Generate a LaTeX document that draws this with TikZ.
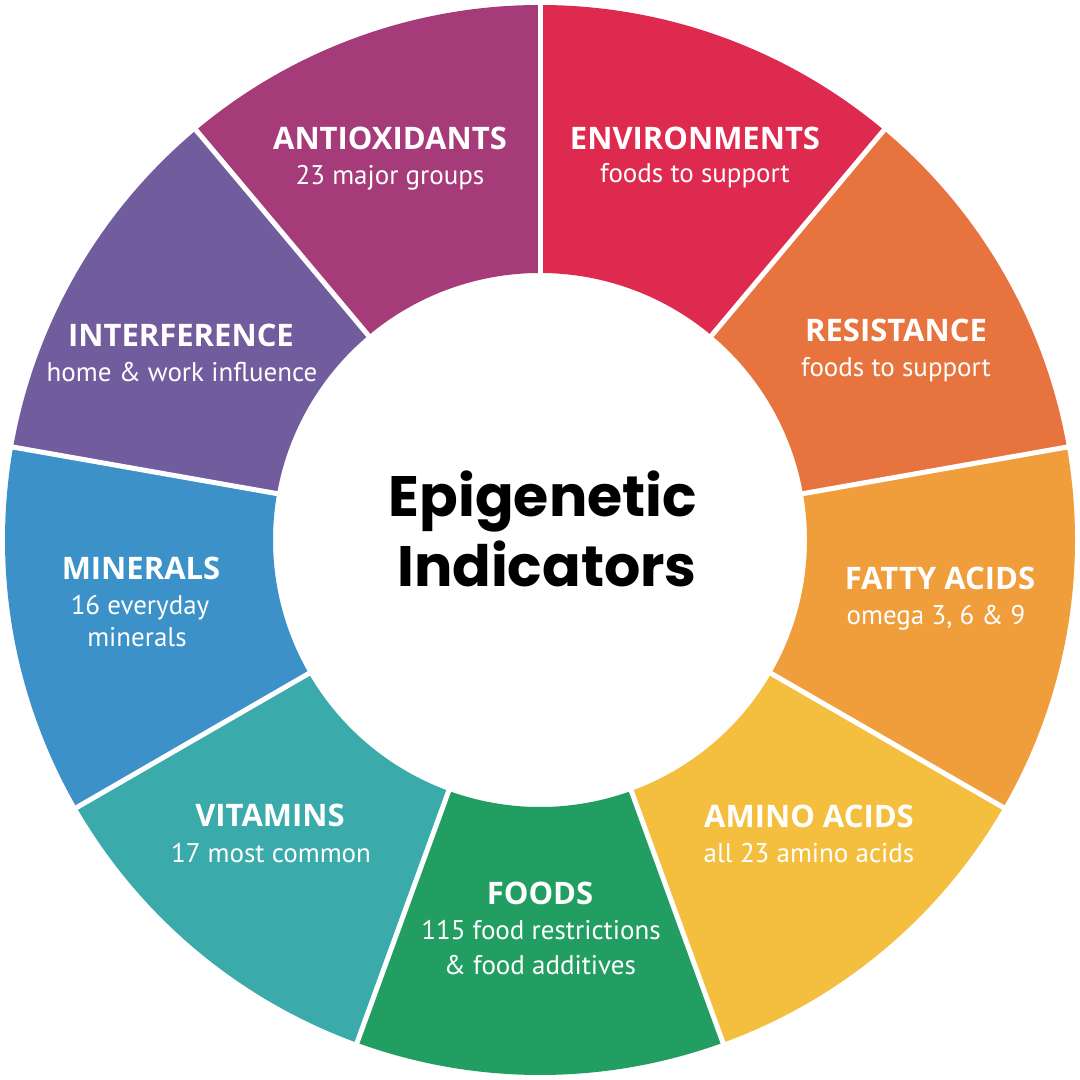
\documentclass[tikz,border=0pt]{standalone}
\usepackage{fontspec}
\setmainfont{PT Sans}
\newfontfamily\headfont{Open Sans}
\newfontfamily\titlefont{Poppins}
\definecolor{cAnti}{HTML}{A63B7A}
\definecolor{cEnv}{HTML}{DE2A4F}
\definecolor{cRes}{HTML}{E7743F}
\definecolor{cFatty}{HTML}{F09E3B}
\definecolor{cAmino}{HTML}{F4BF3F}
\definecolor{cFood}{HTML}{229E63}
\definecolor{cVit}{HTML}{3BAAAB}
\definecolor{cMin}{HTML}{3B91C8}
\definecolor{cInt}{HTML}{715D9E}
\tikzset{
  headlbl/.style={anchor=base, text=white, inner sep=0pt, font=\headfont\fontsize{31}{31}\selectfont\bfseries},
  sublbl/.style={anchor=base, text=white, inner sep=0pt, font=\fontsize{27}{27}\selectfont},
  centerlbl/.style={anchor=base, text=black, inner sep=0pt, font=\titlefont\fontsize{57}{57}\selectfont\bfseries},
  divider/.style={white, line width=5pt}
}
\begin{document}
\begin{tikzpicture}[x=1pt,y=1pt]
\useasboundingbox (0,0) rectangle (1080,1080);
\fill[white] (0,0) rectangle (1080,1080);
\begin{scope}[shift={(540,540)}]
\foreach \a/\c in {90/cAnti,130/cInt,170/cMin,210/cVit,250/cFood,290/cAmino,330/cFatty,370/cRes,410/cEnv}{
  \pgfmathsetmacro{\b}{\a+40}
  \fill[\c] (\a:535) arc[start angle=\a, end angle=\b, radius=535pt] -- (\b:267) arc[start angle=\b, end angle=\a, radius=267pt] -- cycle;
}
\foreach \a in {90,130,170,210,250,290,330,370,410}{
  \draw[divider] (\a:260) -- (\a:545);
}
\end{scope}
% labels
\node[headlbl] (anti) at (390,930) {ANTIOXIDANTS};
\node[sublbl] (antis) at (390,895) {23 major groups};
\node[headlbl] (env) at (695,930) {ENVIRONMENTS};
\node[sublbl] (envs) at (695,897) {foods to support};
\node[headlbl] (res) at (896,738) {RESISTANCE};
\node[sublbl] (ress) at (896,703) {foods to support};
\node[headlbl] (fat) at (940,490) {FATTY ACIDS};
\node[sublbl] (fats) at (936,455) {omega 3, 6 \& 9};
\node[headlbl] (ami) at (809,252) {AMINO ACIDS};
\node[sublbl] (amis) at (809,217) {all 23 amino acids};
\node[headlbl] (food) at (540,175) {FOODS};
\node[sublbl] (foods1) at (541,140) {115 food restrictions};
\node[sublbl] (foods2) at (540,105) {\& food additives};
\node[headlbl] (vit) at (270,253) {VITAMINS};
\node[sublbl] (vits) at (271,217) {17 most common};
\node[headlbl] (min) at (141,500) {MINERALS};
\node[sublbl] (mins1) at (140,465) {16 everyday};
\node[sublbl] (mins2) at (137,433) {minerals};
\node[headlbl] (int) at (181,733) {INTERFERENCE};
\node[sublbl] (ints) at (182,698) {home \& work influence};
% center
\node[centerlbl] (c1) at (543,563) {Epigenetic};
\node[centerlbl] (c2) at (547,493) {Indicators};
\end{tikzpicture}
\end{document}
